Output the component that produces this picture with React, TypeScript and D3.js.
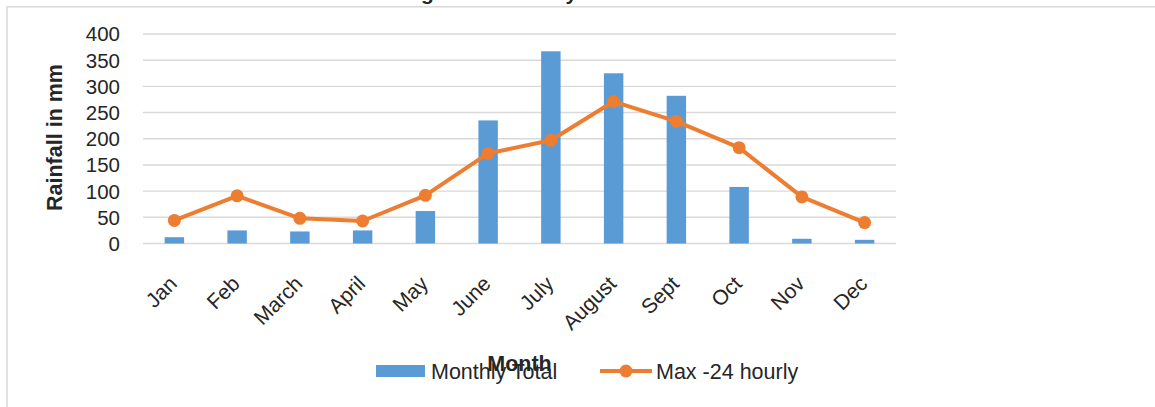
import React from "react";
import * as d3 from "d3";

const months = ["Jan", "Feb", "March", "April", "May", "June", "July", "August", "Sept", "Oct", "Nov", "Dec"];
const monthlyTotal = [12, 25, 23, 25, 62, 235, 367, 325, 282, 108, 9, 7];
const max24Hourly = [44, 91, 48, 43, 92, 172, 197, 271, 233, 183, 89, 40];
const yTicks = [0, 50, 100, 150, 200, 250, 300, 350, 400];
const seriesNames = ["Monthly Total", "Max -24 hourly"];

const W = 1155;
const H = 407;
const FONT = "'Liberation Sans', Arial, sans-serif";
const BLUE = "#5B9BD5";
const ORANGE = "#ED7D31";
const GRID = "#d9d9d9";
const TXT = "#262626";

export default function App() {
  const x = d3.scaleBand<string>().domain(months).range([143, 896]).paddingInner(0.69).paddingOuter(0.345);
  const y = d3.scaleLinear().domain([0, 400]).range([243.5, 34]);
  const bw = x.bandwidth();
  const cx = (m: string) => (x(m) as number) + bw / 2;
  const line = d3
    .line<number>()
    .x((_, i) => cx(months[i]))
    .y((d) => y(d));

  return (
    <div style={{ position: "fixed", left: 0, top: 0, width: W, height: H, background: "#fff" }}>
      <svg width={W} height={H} style={{ display: "block" }} fontFamily={FONT}>
        <rect x={0} y={0} width={W} height={H} fill="#fff" />
        <text x={568} y={0} textAnchor="middle" fontSize={21} fontWeight="bold" fill={TXT}>
          Figure 3: Monthly Rainfall Details
        </text>
        <rect x={7} y={6.8} width={W + 20} height={H + 20} fill="none" stroke={GRID} strokeWidth={1.5} />
        {yTicks.map((t) => (
          <g key={t}>
            <line x1={143} x2={896} y1={y(t)} y2={y(t)} stroke={GRID} strokeWidth={1.4} />
            <text x={120} y={y(t)} dy="0.36em" textAnchor="end" fontSize={20.5} fill={TXT}>
              {t}
            </text>
          </g>
        ))}
        <text
          transform={`translate(62,${137.5}) rotate(-90)`}
          textAnchor="middle"
          fontSize={21.5}
          fontWeight="bold"
          fill={TXT}
        >
          Rainfall in mm
        </text>
        {monthlyTotal.map((v, i) => (
          <rect key={months[i]} x={x(months[i])} y={y(v)} width={bw} height={y(0) - y(v)} fill={BLUE} />
        ))}
        <path d={line(max24Hourly) || ""} fill="none" stroke={ORANGE} strokeWidth={4} strokeLinejoin="round" />
        {max24Hourly.map((v, i) => (
          <circle key={months[i]} cx={cx(months[i])} cy={y(v)} r={6.5} fill={ORANGE} />
        ))}
        {months.map((m) => (
          <text
            key={m}
            transform={`translate(${cx(m) + 4},${285}) rotate(-45)`}
            textAnchor="end"
            fontSize={21}
            fill={TXT}
          >
            {m}
          </text>
        ))}
        <rect x={376} y={365} width={49} height={12} fill={BLUE} />
        <text x={431} y={379} fontSize={21.5} fill={TXT}>
          {seriesNames[0]}
        </text>
        <line x1={600} x2={652} y1={371} y2={371} stroke={ORANGE} strokeWidth={4} />
        <circle cx={626} cy={371} r={6.5} fill={ORANGE} />
        <text x={656} y={379} fontSize={21.5} fill={TXT}>
          {seriesNames[1]}
        </text>
        <text x={519.5} y={371} textAnchor="middle" fontSize={21.5} fontWeight="bold" fill={TXT}>
          Month
        </text>
      </svg>
    </div>
  );
}
